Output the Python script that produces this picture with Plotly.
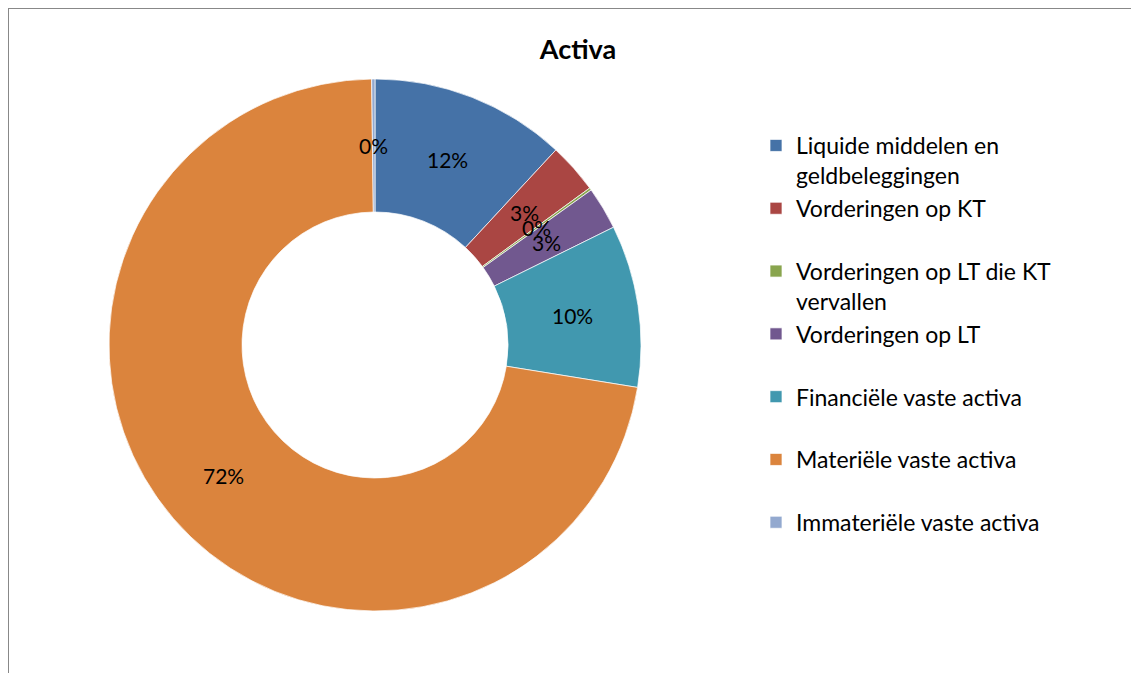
import math
import plotly.graph_objects as go

# slices, clockwise from 12 o'clock
labels = [
    "Liquide middelen en<br>geldbeleggingen",
    "Vorderingen op KT<br> ",
    "Vorderingen op LT die KT<br>vervallen",
    "Vorderingen op LT<br> ",
    "Financiële vaste activa<br> ",
    "Materiële vaste activa<br> ",
    "Immateriële vaste activa",
]
values = [11.9, 3.05, 0.15, 2.6, 9.85, 72.25, 0.2]
colors = ["#4572A7", "#AA4643", "#89A54E", "#71588F", "#4198AF", "#DB843D", "#93A9CF"]

W, H = 1139, 673
FONT = "Lato"
M_T, M_B = 71, 70
PLOT_H = H - M_T - M_B
DOM_X = [101 / W, 633 / W]

fig = go.Figure()

fig.add_trace(go.Pie(
    labels=labels,
    values=values,
    hole=0.5,
    sort=False,
    direction="clockwise",
    rotation=0,
    marker=dict(colors=colors, line=dict(color="white", width=0.7)),
    textinfo="none",
    domain=dict(x=DOM_X, y=[0, 1]),
))

# percent labels at the middle of the ring, like Excel
total = sum(values)
cx = (DOM_X[0] + DOM_X[1]) / 2 * W
cy = M_T + PLOT_H / 2
r_out = PLOT_H / 2
r_mid = r_out * 0.75
cum = 0
for v in values:
    ang = 2 * math.pi * (cum + v / 2) / total
    cum += v
    px = cx + r_mid * math.sin(ang)
    py = cy - r_mid * math.cos(ang)
    fig.add_annotation(
        x=px / W, y=1 - (py - M_T) / PLOT_H, xref="paper", yref="paper",
        text=f"{v / total:.0%}", showarrow=False,
        font=dict(family=FONT, size=21, color="black"),
        xanchor="center", yanchor="middle",
    )

# chart border (Excel chart area frame)
fig.add_shape(type="rect", xref="paper", yref="paper",
              x0=0, x1=1.05, y0=-0.3, y1=1 + M_T / PLOT_H,
              line=dict(color="#888888", width=2), fillcolor="rgba(0,0,0,0)")

fig.update_layout(
    width=W, height=H,
    margin=dict(l=0, r=0, t=M_T, b=M_B),
    paper_bgcolor="white",
    plot_bgcolor="white",
    font=dict(family=FONT, size=23, color="black"),
    title=dict(text="<b>Activa</b>", x=570 / W, xanchor="center",
               y=1 - 42 / H, yanchor="middle", yref="container",
               font=dict(family=FONT, size=27, color="black")),
    showlegend=True,
    legend=dict(x=748 / W, xanchor="left", y=1 - (116 - M_T) / PLOT_H, yanchor="top",
                valign="top", font=dict(family=FONT, size=23, color="black"),
                bgcolor="rgba(0,0,0,0)"),
)

fig.write_html("out.html")
